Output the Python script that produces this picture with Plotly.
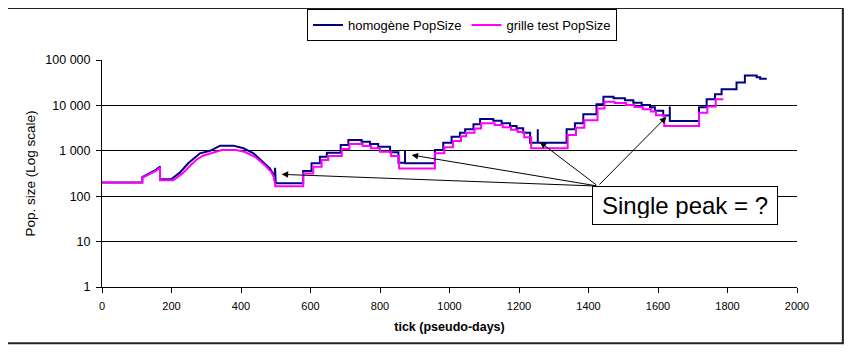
import plotly.graph_objects as go

# ---- data (tick, population) ----
homog_tick = [0, 116, 116, 140, 155, 167, 167, 199, 210, 224, 248, 265, 282, 311, 330, 340, 378, 407, 436, 464, 483, 494, 497, 498, 500,
              579, 579, 603, 603, 627, 627, 647, 647, 687, 687, 709, 709, 747, 747, 771, 771, 795, 795, 829, 829, 853, 853, 872, 872, 872,
              958, 958, 982, 982, 1006, 1006, 1030, 1030, 1045, 1045, 1069, 1069, 1088, 1088, 1126, 1126, 1150, 1150, 1174, 1174, 1193, 1193,
              1212, 1212, 1232, 1232, 1254, 1254, 1254, 1337, 1337, 1361, 1361, 1385, 1385, 1423, 1423, 1443, 1443, 1472, 1472, 1505, 1505,
              1529, 1529, 1553, 1553, 1577, 1577, 1591, 1591, 1615, 1615, 1634, 1634, 1634, 1718, 1718, 1740, 1740, 1764, 1764, 1783, 1783,
              1826, 1826, 1850, 1850, 1884, 1884, 1894, 1894, 1913]
homog_pop = [200, 200, 265, 330, 380, 450, 235, 235, 270, 330, 530, 700, 880, 1000, 1200, 1300, 1300, 1135, 880, 575, 410, 300, 220, 420, 192,
             192, 358, 358, 530, 530, 740, 740, 910, 910, 1340, 1340, 1740, 1740, 1590, 1590, 1410, 1410, 1230, 1230, 927, 927, 546, 546, 1045, 530,
             530, 1045, 1045, 1510, 1510, 2040, 2040, 2500, 2500, 2970, 2970, 3850, 3850, 5000, 5000, 4620, 4620, 4050, 4050, 3530, 3530, 3140,
             3140, 2500, 2500, 1510, 1510, 2970, 1510, 1510, 2970, 2970, 4050, 4050, 6390, 6390, 10600, 10600, 15500, 15500, 14400, 14400, 13000,
             13000, 11500, 11500, 10200, 10200, 9100, 9100, 7670, 7670, 5960, 5960, 9400, 4550, 4550, 9100, 9100, 13700, 13700, 17700, 17700, 22800,
             22800, 31800, 31800, 45700, 45700, 41900, 41900, 38500, 38500]

grille_tick = [0, 116, 116, 140, 155, 167, 167, 205, 215, 230, 255, 270, 290, 315, 335, 345, 385, 410, 440, 468, 487, 495, 499,
               579, 579, 608, 608, 632, 632, 651, 651, 690, 690, 712, 712, 750, 750, 774, 774, 800, 800, 832, 832, 855, 855,
               958, 958, 985, 985, 1010, 1010, 1033, 1033, 1048, 1048, 1072, 1072, 1091, 1091, 1130, 1130, 1153, 1153, 1177, 1177,
               1196, 1196, 1215, 1215, 1235, 1235, 1340, 1340, 1364, 1364, 1388, 1388, 1426, 1426, 1446, 1446, 1475, 1475, 1508, 1508,
               1532, 1532, 1556, 1556, 1580, 1580, 1594, 1594, 1618, 1618, 1718, 1718, 1742, 1742, 1766, 1766, 1788]
grille_pop = [200, 200, 255, 320, 360, 430, 225, 225, 255, 310, 480, 620, 780, 880, 1000, 1045, 1045, 950, 740, 490, 340, 260, 165,
              165, 318, 318, 445, 445, 625, 625, 770, 770, 1100, 1100, 1410, 1410, 1280, 1280, 1135, 1135, 950, 950, 770, 770, 410,
              410, 880, 880, 1200, 1200, 1650, 1650, 2100, 2100, 2500, 2500, 3100, 3100, 4050, 4050, 3700, 3700, 3300, 3300, 2900,
              2900, 2600, 2600, 2000, 2000, 1135, 1135, 2230, 2230, 3200, 3200, 4700, 4700, 8500, 8500, 12000, 12000, 11300, 11300, 10200,
              10200, 9200, 9200, 8200, 8200, 7300, 7300, 6100, 6100, 3530, 3530, 6930, 6930, 9500, 9500, 13700, 13700]

series_names = ["homogène PopSize", "grille test PopSize"]
y_tickvals = [1, 10, 100, 1000, 10000, 100000]
y_ticktext = ["1", "10", "100", "1 000", "10 000", "100 000"]
x_tickvals = list(range(0, 2001, 200))

note_text = "Single peak = ?"
note_tick, note_logpop = 1678, 1.79
arrow_tail_tick, arrow_tail_logpop = 1427, 2.223
arrow_head_tick = [517, 891, 1260, 1624]
arrow_head_logpop = [2.481, 2.907, 3.194, 3.746]

FONT = "Liberation Sans, Arial, sans-serif"

fig = go.Figure()
fig.add_trace(go.Scatter(x=homog_tick, y=homog_pop, mode="lines", name=series_names[0],
                         line=dict(color="#000080", width=2)))
fig.add_trace(go.Scatter(x=grille_tick, y=grille_pop, mode="lines", name=series_names[1],
                         line=dict(color="#FF00FF", width=2)))

# arrows
for hx, hy in zip(arrow_head_tick, arrow_head_logpop):
    fig.add_annotation(x=hx, y=hy, ax=arrow_tail_tick, ay=arrow_tail_logpop, xref="x", yref="y",
                       axref="x", ayref="y", text="", showarrow=True, arrowhead=2, arrowsize=1.3,
                       arrowwidth=1, arrowcolor="black")

fig.add_annotation(x=note_tick, y=note_logpop, xref="x", yref="y", text=note_text, showarrow=False,
                   font=dict(family=FONT, size=24, color="black"), bgcolor="white",
                   bordercolor="black", borderwidth=1, borderpad=6, width=172, height=25)

# outer frame
fig.add_shape(type="rect", xref="paper", yref="paper", x0=-0.1367, x1=1.066, y0=-0.248, y1=1.229,
              line=dict(color="#222222", width=2), layer="below")

fig.update_layout(
    width=838, height=344,
    margin=dict(l=94, r=49, t=52, b=65, autoexpand=False),
    paper_bgcolor="white", plot_bgcolor="white",
    font=dict(family=FONT, size=11, color="black"),
    showlegend=True,
    legend=dict(orientation="h", x=0.518, y=1.224, xanchor="center", yanchor="top",
                bordercolor="black", borderwidth=1, bgcolor="white",
                font=dict(family=FONT, size=13), itemwidth=30, tracegroupgap=0),
    xaxis=dict(range=[0, 2000], tickvals=x_tickvals, showgrid=False, zeroline=False, automargin=False,
               showline=True, linecolor="black", linewidth=1, ticks="outside", ticklen=5,
               tickcolor="black", tickfont=dict(size=11), ticklabelstandoff=4,
               title=dict(text="<b>tick (pseudo-days)</b>", font=dict(size=12.5), standoff=11)),
    yaxis=dict(type="log", range=[0, 5], tickvals=y_tickvals, ticktext=y_ticktext, automargin=False,
               showgrid=True, gridcolor="black", gridwidth=1, zeroline=False,
               showline=True, linecolor="black", linewidth=1, ticks="outside", ticklen=5,
               tickcolor="black", tickfont=dict(size=12.5), ticklabelstandoff=3,
               title=dict(text="Pop. size (Log scale)", font=dict(size=13.5), standoff=6)),
)

fig.write_html("out.html")
